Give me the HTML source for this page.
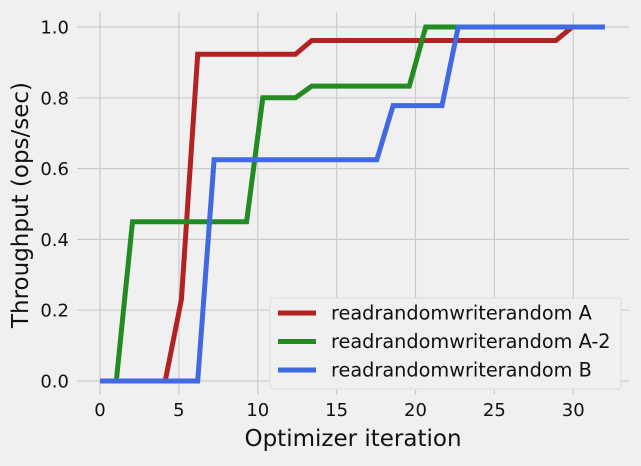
<!DOCTYPE html>
<html><head><meta charset="utf-8"><style>
html,body{margin:0;padding:0;background:#f0f0f0;}
svg text{font-family:"DejaVu Sans","Liberation Sans",sans-serif;fill:#111;}
</style></head><body>
<svg width="641" height="461" viewBox="0 0 641 461">
<rect width="641" height="461" fill="#f0f0f0"/>
<g id="grid"></g>
<g id="series"></g>
<g id="axes"></g>
<text x="353" y="446" font-size="23" text-anchor="middle">Optimizer iteration</text>
<text transform="translate(28,205) rotate(-90)" font-size="23" text-anchor="middle">Throughput (ops/sec)</text>
<g>
<rect x="270" y="298" width="351" height="91" rx="3" fill="#f0f0f0" stroke="#dcdcdc"/>
<g id="legend"></g>
</g>
</svg>
<script>
const iterations=[0,1.03,2.06,3.10,4.13,5.16,6.19,7.23,8.26,9.29,10.32,11.35,12.39,13.42,14.45,15.48,16.52,17.55,18.58,19.61,20.65,21.68,22.71,23.74,24.77,25.81,26.84,27.87,28.90,29.94,30.97,32.00];
const seriesA=[0,0,0,0,0,0.23,0.923,0.923,0.923,0.923,0.923,0.923,0.923,0.962,0.962,0.962,0.962,0.962,0.962,0.962,0.962,0.962,0.962,0.962,0.962,0.962,0.962,0.962,0.962,1,1,1];
const seriesA2=[0,0,0.45,0.45,0.45,0.45,0.45,0.45,0.45,0.45,0.80,0.80,0.80,0.833,0.833,0.833,0.833,0.833,0.833,0.833,1,1,1,1,1,1,1,1,1,1,1,1];
const seriesB=[0,0,0,0,0,0,0,0.625,0.625,0.625,0.625,0.625,0.625,0.625,0.625,0.625,0.625,0.625,0.778,0.778,0.778,0.778,1,1,1,1,1,1,1,1,1,1];
const seriesNames=["readrandomwriterandom A","readrandomwriterandom A-2","readrandomwriterandom B"];
const xTicks=[0,5,10,15,20,25,30];
const yTicks=[0,0.2,0.4,0.6,0.8,1.0];
const yTickLabels=["0.0","0.2","0.4","0.6","0.8","1.0"];
const NS="http://www.w3.org/2000/svg";
const X0=74.8,X1=630,Y0=398.7,Y1=9.3,xmin=-1.6,xmax=33.6,ymin=-0.05,ymax=1.05;
const xs=v=>X0+(v-xmin)/(xmax-xmin)*(X1-X0);
const ys=v=>Y0-(v-ymin)/(ymax-ymin)*(Y0-Y1);
function mk(tag,attrs,parent){const e=document.createElementNS(NS,tag);for(const k in attrs)e.setAttribute(k,attrs[k]);parent.appendChild(e);return e;}
const grid=document.getElementById('grid'),axes=document.getElementById('axes'),ser=document.getElementById('series'),leg=document.getElementById('legend');
xTicks.forEach(t=>{
 const l=mk('line',{x1:xs(t),x2:xs(t),y1:Y1+3,y2:Y0-4,stroke:'#cbcbcb','stroke-width':1.2},grid);
 
 
 const tx=mk('text',{x:xs(t),y:416,'font-size':18,'text-anchor':'middle'},axes);
 tx.textContent=t;
 
 
});
yTicks.forEach((t,i)=>{
 const l=mk('line',{x1:77,x2:629,y1:ys(t),y2:ys(t),stroke:'#cbcbcb','stroke-width':1.2},grid);
 
 
 const tx=mk('text',{x:69,y:ys(t)+6.5,'font-size':18,'text-anchor':'end'},axes);
 tx.textContent=yTickLabels[i];
 
 
});
const allSeries=[seriesA,seriesA2,seriesB];
const colors=["#b22222","#228b22","#4169e1"];
allSeries.forEach((s,k)=>{
 const d=s.map((v,i)=>(i?'L':'M')+xs(iterations[i]).toFixed(1)+' '+ys(v).toFixed(1)).join(' ');
 const p=mk('path',{d:d,fill:'none',stroke:colors[k],'stroke-width':5,'stroke-linejoin':'miter'},ser);
 
 
 const y=313+k*28.5;
 const ll=mk('line',{x1:278,x2:316,y1:y,y2:y,stroke:colors[k],'stroke-width':5},leg);
 
 
 const lt=mk('text',{x:331,y:y+6.5,'font-size':19.3},leg);
 lt.textContent=seriesNames[k];
 
 
});
</script>
</body></html>
